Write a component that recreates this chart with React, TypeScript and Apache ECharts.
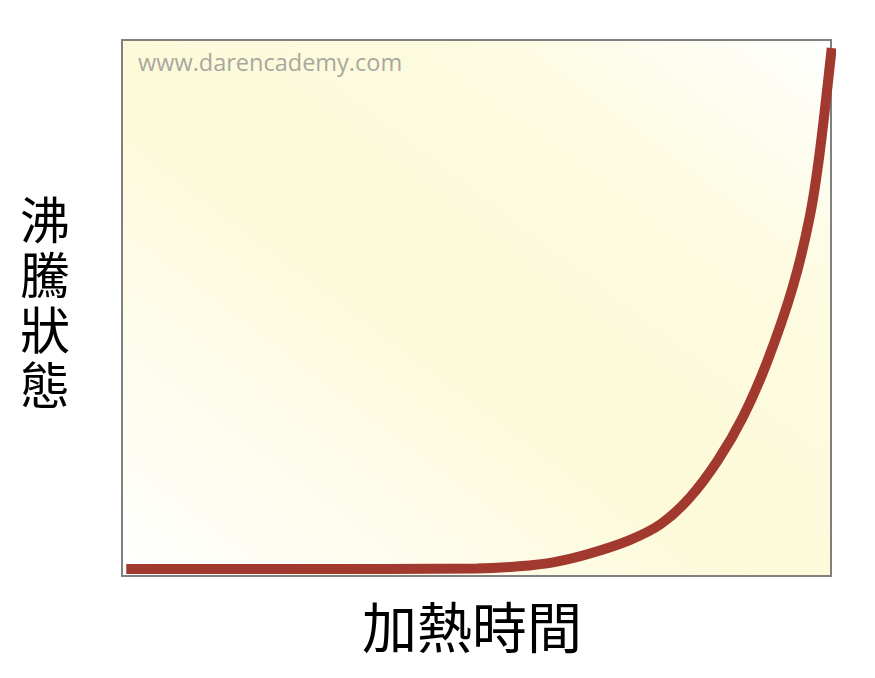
import { useRef, useEffect } from "react";
import * as echarts from "echarts";

// heating time (x) vs boiling state (y) on a 0–100 scale
const heatTime = [0.6, 25, 50, 56, 61, 66, 71.6, 76, 80, 84, 87.6, 91, 94.6, 97, 98.4, 100.1];
const boilState = [1.3, 1.3, 1.4, 1.8, 2.6, 4.2, 6.7, 9.7, 14.5, 21.5, 29.7, 40, 53.9, 67, 78.9, 98.5];

const xTitle = "加熱時間";
const yTitle = ["沸", "騰", "狀", "態"];
const watermark = "www.darencademy.com";

export default function App() {
  const chartRef = useRef<HTMLDivElement>(null);

  useEffect(() => {
    if (!chartRef.current) return;
    const chart = echarts.init(chartRef.current, null, { renderer: "svg" });

    const cjk = '"Noto Sans CJK TC", "Noto Sans CJK SC", sans-serif';

    const option: echarts.EChartsOption = {
      animation: false,
      backgroundColor: "#ffffff",
      grid: {
        show: true,
        left: 122,
        top: 40,
        width: 709,
        height: 536,
        borderColor: "#808080",
        borderWidth: 2,
        backgroundColor: new echarts.graphic.LinearGradient(0, 1, 1, 0, [
          { offset: 0, color: "#ffffff" },
          { offset: 0.45, color: "#fdfad9" },
          { offset: 0.75, color: "#fdfbe0" },
          { offset: 1, color: "#ffffff" },
        ]) as any,
      },
      xAxis: {
        type: "value",
        min: 0,
        max: 100,
        axisLine: { show: false },
        axisTick: { show: false },
        axisLabel: { show: false },
        splitLine: { show: false },
      },
      yAxis: {
        type: "value",
        min: 0,
        max: 100,
        axisLine: { show: false },
        axisTick: { show: false },
        axisLabel: { show: false },
        splitLine: { show: false },
      },
      series: [
        {
          type: "line",
          data: heatTime.map((x, i) => [x, boilState[i]]),
          smooth: 0.3,
          showSymbol: false,
          clip: false,
          lineStyle: { color: "#a2392f", width: 10, cap: "butt" },
        },
      ],
      graphic: [
        {
          type: "text",
          left: 138,
          top: 50,
          style: {
            text: watermark,
            fill: "#a8a89e",
            font: '23.5px "Open Sans", sans-serif',
          },
        },
        ...yTitle.map((ch, i) => ({
          type: "text" as const,
          left: 20,
          top: 192 + i * 55,
          style: {
            text: ch,
            fill: "#000000",
            font: `50px ${cjk}`,
          },
        })),
        {
          type: "text",
          left: 362,
          top: 596,
          style: {
            text: xTitle,
            fill: "#000000",
            font: `55px ${cjk}`,
          },
        },
      ],
    };

    chart.setOption(option);

    return () => {
      chart.dispose();
    };
  }, []);

  return (
    <div
      ref={chartRef}
      style={{ position: "fixed", left: 0, top: 0, width: "875px", height: "678px" }}
    />
  );
}
